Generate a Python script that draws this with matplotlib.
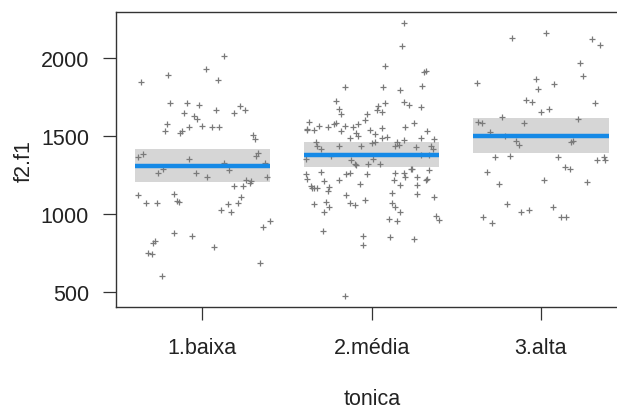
import numpy as np
import matplotlib
matplotlib.use("Agg")
import matplotlib.pyplot as plt

plt.rcParams['font.family'] = ['Liberation Sans', 'DejaVu Sans']

categories = ["1.baixa", "2.média", "3.alta"]
fit = [1310, 1378, 1500]
lower = [1207, 1303, 1393]
upper = [1419, 1464, 1617]

# partial residuals, jitter offset from the category position + value
baixa_dx = [0.13, 0.02, -0.20, -0.36, 0.09, -0.19, -0.09, -0.02, 0.22, 0.08, 0.25, -0.11, 0.19,
            -0.05, -0.03, -0.21, -0.08, 0.00, 0.06, 0.10, -0.22, -0.12, -0.13, 0.30, 0.31, -0.38,
            -0.35, -0.08, 0.32, 0.33, 0.13, 0.37, -0.23, -0.26, -0.04, 0.03, 0.16, 0.38, 0.26,
            0.28, 0.29, 0.19, 0.24, -0.38, -0.17, -0.33, -0.27, -0.15, -0.14, 0.23, 0.15, 0.21,
            0.11, 0.17, 0.40, 0.36, -0.17, -0.06, -0.28, -0.29, -0.32, -0.30, 0.07, 0.34, -0.24]
baixa_y = [2013, 1931, 1895, 1850, 1859, 1713, 1713, 1702, 1693, 1668, 1668, 1648, 1648,
           1631, 1612, 1576, 1558, 1567, 1558, 1558, 1531, 1531, 1522, 1511, 1486, 1365,
           1385, 1357, 1376, 1393, 1329, 1329, 1293, 1264, 1264, 1239, 1284, 1239, 1219,
           1203, 1213, 1183, 1183, 1121, 1129, 1074, 1074, 1084, 1080, 1110, 1065, 1074,
           1029, 1018, 954, 917, 881, 862, 827, 817, 753, 744, 789, 690, 607]

media_dx = [0.19, 0.18, 0.08, -0.16, 0.07, 0.17, 0.32, 0.31, 0.30, -0.21, 0.19, 0.22, 0.08,
            0.04, -0.19, 0.03, 0.06, 0.29, -0.18, -0.03, -0.04, -0.37, 0.25, -0.21, -0.22,
            -0.08, -0.11, -0.31, -0.26, -0.16, 0.06, -0.38, -0.38, -0.34, -0.01, 0.20, -0.18,
            -0.09, 0.33, -0.08, -0.13, 0.02, 0.06, 0.09, 0.15, 0.19, 0.29, 0.37, -0.33, 0.00,
            0.02, -0.06, 0.14, 0.16, 0.26, 0.35, 0.36, -0.32, -0.30, -0.19, -0.39, -0.24,
            -0.12, -0.10, -0.09, 0.01, 0.05, -0.02, 0.29, 0.34, 0.23, 0.24, -0.30, -0.39,
            -0.13, -0.15, -0.03, 0.14, 0.19, 0.34, 0.27, 0.20, 0.33, 0.32, -0.38, -0.19, 0.13,
            -0.28, -0.36, -0.35, -0.34, -0.32, -0.07, 0.17, 0.27, -0.25, -0.26, 0.27, 0.12,
            -0.15, 0.37, -0.27, -0.34, -0.13, -0.10, -0.04, 0.12, 0.14, -0.25, 0.17, -0.28,
            0.38, 0.40, 0.10, 0.15, -0.29, -0.05, 0.11, 0.25, -0.05, -0.16]
media_y = [2225, 2077, 1949, 1814, 1814, 1796, 1920, 1910, 1822, 1727, 1721, 1702, 1711,
           1695, 1676, 1668, 1657, 1685, 1640, 1640, 1603, 1595, 1584, 1584, 1576,
           1576, 1558, 1567, 1558, 1567, 1552, 1550, 1539, 1539, 1539, 1558, 1531,
           1524, 1531, 1502, 1488, 1513, 1488, 1494, 1466, 1477, 1488, 1486, 1466, 1457,
           1464, 1438, 1438, 1443, 1430, 1438, 1417, 1438, 1421, 1438, 1353, 1374,
           1346, 1325, 1316, 1353, 1320, 1320, 1380, 1380, 1288, 1293, 1273, 1258,
           1267, 1258, 1258, 1267, 1267, 1282, 1239, 1239, 1224, 1218, 1228, 1219, 1219,
           1211, 1181, 1171, 1166, 1166, 1192, 1185, 1185, 1174, 1149, 1132, 1138,
           1121, 1110, 1082, 1068, 1074, 1057, 1091, 1074, 1048, 1048, 1018, 1012,
           992, 962, 967, 954, 891, 864, 853, 845, 806, 474]

alta_dx = [-0.17, 0.03, 0.30, 0.35, 0.23, 0.25, -0.38, -0.03, -0.02, 0.08, -0.09, -0.05, 0.32,
           0.00, 0.05, -0.23, -0.37, -0.35, -0.10, 0.22, -0.30, -0.21, -0.15, -0.13, 0.18,
           0.19, -0.27, -0.18, 0.10, 0.33, 0.37, 0.38, 0.14, 0.17, -0.32, 0.02, 0.27, -0.25,
           -0.20, -0.12, -0.07, 0.07, -0.34, -0.29, 0.12, 0.15]
alta_y = [2132, 2161, 2124, 2087, 1968, 1884, 1841, 1867, 1803, 1833, 1732, 1721, 1713,
          1657, 1676, 1621, 1592, 1584, 1584, 1612, 1528, 1502, 1470, 1444, 1464,
          1468, 1365, 1374, 1365, 1348, 1365, 1348, 1306, 1293, 1273, 1217, 1209, 1192,
          1063, 1018, 1026, 1046, 981, 946, 981, 981]

points_dx = [baixa_dx, media_dx, alta_dx]
points_y = [baixa_y, media_y, alta_y]

fig = plt.figure(figsize=(6.17, 4.14), dpi=100)
W, H = 617, 414
ax = fig.add_axes([116 / W, 1 - 308.3 / H, (625.6 - 116) / W, (308.3 - 13.3) / H])

half = 0.4
for i in range(len(categories)):
    pos = i + 1
    ax.fill_between([pos - half, pos + half], lower[i], upper[i],
                    color='#D6D6D6', lw=0, zorder=1)
    ax.plot(np.array(points_dx[i]) + pos, points_y[i], ls='none', marker='+',
            ms=4, mew=0.9, color='#7A7A7A', zorder=2)
    ax.plot([pos - half, pos + half], [fit[i], fit[i]], color='#1589E6',
            lw=3.2, solid_capstyle='butt', zorder=3)

ax.set_xlim(1 - 86.3 / 169.3, 3.5)
ax.set_ylim(404, 2295)
ax.set_xticks([1, 2, 3])
ax.set_xticklabels(categories)
ax.set_yticks([500, 1000, 1500, 2000])

for s in ax.spines.values():
    s.set_linewidth(1.0)
    s.set_color('#333333')

ax.tick_params(axis='both', length=9.5, width=0.9, color='#333333',
               labelsize=15.5, labelcolor='#222222')
ax.tick_params(axis='y', pad=10)
ax.tick_params(axis='x', pad=12)

fig.text(372 / W, 1 - 400 / H, "tonica", ha='center', va='center',
         fontsize=15.5, color='#222222')
fig.text(24 / W, 1 - 161 / H, "f2.f1", ha='center', va='center',
         rotation=90, fontsize=15.5, color='#222222')

fig.savefig("out.png", dpi=100)
